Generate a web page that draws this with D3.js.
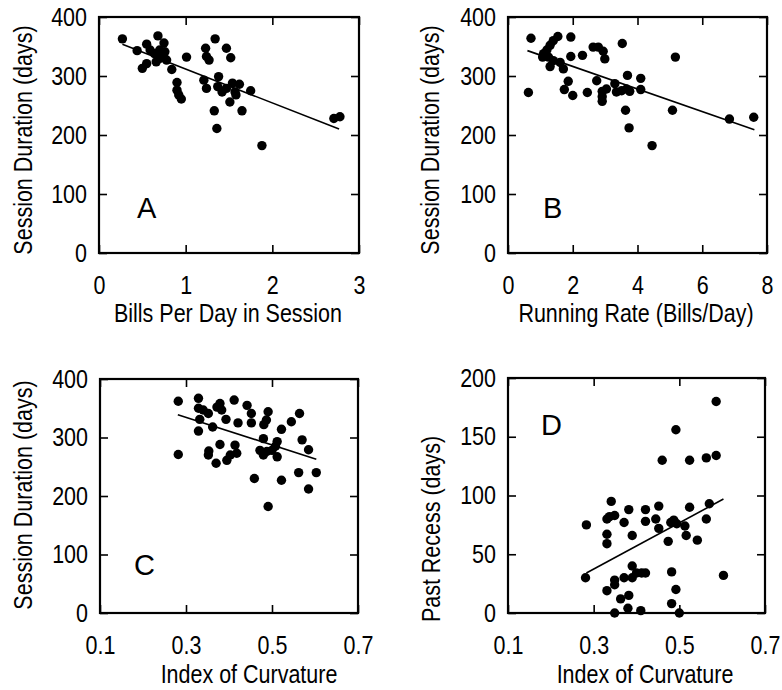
<!DOCTYPE html>
<html>
<head>
<meta charset="utf-8">
<script src="https://cdn.jsdelivr.net/npm/d3@7"></script>
<style>
  html, body { margin: 0; padding: 0; background: #fff; }
  svg { display: block; }
</style>
</head>
<body>
<div id="chart"></div>
<script>
// Four scatter panels (A-D).

// A: bills per day in session vs session duration
const billsA = [0.27,0.44,0.50,0.55,0.55,0.68,0.75,0.59,0.64,0.70,0.76,0.66,0.78,0.71,0.84,0.90,0.90,0.92,0.95,1.01,1.23,1.24,1.27,1.34,1.47,1.52,1.21,1.24,1.38,1.37,1.42,1.47,1.54,1.62,1.57,1.51,1.58,1.75,1.33,1.65,1.36,1.88,2.71,2.78]
const durA  = [363,343,313,321,354,368,356,344,338,344,341,324,327,330,311,289,276,268,261,332,347,333,327,363,347,331,293,279,299,282,273,279,288,286,273,256,268,275,241,241,211,182,228,231]

// B: running rate vs session duration
const rateB = [0.71,0.63,1.54,1.40,1.30,1.20,1.10,1.07,1.25,1.30,1.40,1.61,1.71,1.94,1.94,2.30,1.86,1.74,2.00,2.45,2.63,2.79,2.94,2.99,2.74,2.91,2.91,2.91,3.04,3.30,3.35,3.51,3.66,3.76,3.53,3.69,3.63,3.74,4.10,4.10,4.45,5.08,5.17,6.84,7.59]
const durB  = [364,272,367,360,352,344,338,332,332,316,326,323,312,366,333,335,291,277,267,272,349,349,342,329,292,274,257,265,278,287,273,275,278,274,355,301,242,212,296,277,182,242,332,227,230]

// C: index of curvature vs session duration
const curvC = [0.282,0.282,0.329,0.329,0.340,0.352,0.332,0.329,0.362,0.379,0.372,0.383,0.393,0.412,0.421,0.442,0.452,0.452,0.491,0.487,0.481,0.379,0.353,0.352,0.370,0.395,0.403,0.414,0.418,0.480,0.472,0.480,0.488,0.508,0.512,0.512,0.500,0.522,0.545,0.564,0.570,0.585,0.459,0.522,0.562,0.603,0.585,0.491]
const durC  = [362,271,367,350,347,341,331,311,318,358,352,347,331,364,325,355,341,325,344,330,322,288,277,270,256,261,270,287,273,298,278,270,276,285,293,267,278,314,327,341,296,279,230,227,240,240,212,182]

// D: index of curvature vs past recess
const curvD   = [0.283,0.281,0.331,0.337,0.349,0.341,0.331,0.331,0.371,0.382,0.390,0.421,0.421,0.445,0.452,0.452,0.474,0.480,0.487,0.494,0.513,0.516,0.524,0.542,0.563,0.570,0.460,0.492,0.524,0.563,0.586,0.586,0.603,0.390,0.371,0.390,0.400,0.412,0.421,0.349,0.349,0.331,0.363,0.382,0.380,0.349,0.410,0.482,0.492,0.482,0.500]
const recessD = [75,30,80,82,83,95,67,59,77,88,66,88,78,80,91,72,61,77,79,76,74,66,90,62,80,93,130,156,130,132,134,180,32,40,30,30,34,34,34,28,24,19,12,15,4,0,2,35,20,8,0]

// regression line end points
const fitAx = [0.27, 2.77], fitAy = [354, 210]
const fitBx = [0.60, 7.61], fitBy = [343, 209]
const fitCx = [0.281, 0.603], fitCy = [339, 263]
const fitDx = [0.283, 0.603], fitDy = [34, 97]

// tick values
const ticksA = [0, 1, 2, 3]
const ticksB = [0, 2, 4, 6, 8]
const ticksCurv = [0.1, 0.3, 0.5, 0.7]
const ticksDur = [0, 100, 200, 300, 400]
const ticksRecess = [0, 50, 100, 150, 200]

const W = 782, H = 690
const FONT = "'Liberation Sans', Arial, sans-serif"
const SX = 0.86   // the original type is a narrow grotesque: squeeze horizontally

const svg = d3.select("#chart").append("svg")
  .attr("width", W).attr("height", H)
  .attr("viewBox", `0 0 ${W} ${H}`)

const panels = [
  { letter: "A", xs: billsA, ys: durA, fx: fitAx, fy: fitAy,
    xDom: [0, 3], yDom: [0, 400], xTicks: ticksA, yTicks: ticksDur,
    box: { x0: 99, x1: 359, y0: 17, y1: 253 },
    xTitle: "Bills Per Day in Session", xTitleX: 228, xTitleY: 322,
    yTitle: "Session Duration (days)", yTitleX: 32, yTitleY: 140,
    lx: 137, ly: 218, fmt: d3.format("d") },
  { letter: "B", xs: rateB, ys: durB, fx: fitBx, fy: fitBy,
    xDom: [0, 8], yDom: [0, 400], xTicks: ticksB, yTicks: ticksDur,
    box: { x0: 508, x1: 767, y0: 17, y1: 253 },
    xTitle: "Running Rate (Bills/Day)", xTitleX: 636, xTitleY: 322,
    yTitle: "Session Duration (days)", yTitleX: 439, yTitleY: 140,
    lx: 543, ly: 218, fmt: d3.format("d") },
  { letter: "C", xs: curvC, ys: durC, fx: fitCx, fy: fitCy,
    xDom: [0.1, 0.7], yDom: [0, 400], xTicks: ticksCurv, yTicks: ticksDur,
    box: { x0: 100, x1: 358, y0: 379, y1: 613 },
    xTitle: "Index of Curvature", xTitleX: 249, xTitleY: 683,
    yTitle: "Session Duration (days)", yTitleX: 32, yTitleY: 495,
    lx: 134, ly: 575, fmt: d3.format(".1f") },
  { letter: "D", xs: curvD, ys: recessD, fx: fitDx, fy: fitDy,
    xDom: [0.1, 0.7], yDom: [0, 200], xTicks: ticksCurv, yTicks: ticksRecess,
    box: { x0: 508, x1: 765, y0: 378, y1: 613 },
    xTitle: "Index of Curvature", xTitleX: 645, xTitleY: 683,
    yTitle: "Past Recess (days)", yTitleX: 440, yTitleY: 529,
    lx: 541, ly: 435, fmt: d3.format(".1f") },
]

panels.forEach(p => {
  const b = p.box
  const x = d3.scaleLinear().domain(p.xDom).range([b.x0, b.x1])
  const y = d3.scaleLinear().domain(p.yDom).range([b.y1, b.y0])
  const g = svg.append("g")

  // inward ticks on all four sides, labels only bottom + left
  const styleAxis = s => {
    s.select(".domain").remove()
    s.selectAll(".tick line").attr("stroke", "#000").attr("stroke-width", 1.6)
    s.selectAll(".tick text").attr("fill", "#000")
      .attr("font-family", FONT).attr("font-size", 25)
      .each(function () {
        // squeeze around the anchor point
        const t = d3.select(this)
        const tx = +t.attr("x") || 0
        t.attr("x", tx / SX).attr("transform", `scale(${SX},1)`)
      })
  }
  g.append("g").attr("transform", `translate(0,${b.y1})`)
    .call(d3.axisBottom(x).tickValues(p.xTicks).tickSize(-8).tickPadding(23).tickFormat(p.fmt))
    .call(styleAxis)
  g.append("g").attr("transform", `translate(0,${b.y0})`)
    .call(d3.axisTop(x).tickValues(p.xTicks).tickSize(-8).tickFormat(""))
    .call(styleAxis)
  g.append("g").attr("transform", `translate(${b.x0},0)`)
    .call(d3.axisLeft(y).tickValues(p.yTicks).tickSize(-8).tickPadding(12).tickFormat(d3.format("d")))
    .call(styleAxis)
  g.append("g").attr("transform", `translate(${b.x1},0)`)
    .call(d3.axisRight(y).tickValues(p.yTicks).tickSize(-8).tickFormat(""))
    .call(styleAxis)

  g.append("rect")
    .attr("x", b.x0).attr("y", b.y0)
    .attr("width", b.x1 - b.x0).attr("height", b.y1 - b.y0)
    .attr("fill", "none").attr("stroke", "#000").attr("stroke-width", 2.2)

  // fit line
  g.append("line")
    .attr("x1", x(p.fx[0])).attr("y1", y(p.fy[0]))
    .attr("x2", x(p.fx[1])).attr("y2", y(p.fy[1]))
    .attr("stroke", "#000").attr("stroke-width", 1.6)

  // points
  g.selectAll("circle.pt")
    .data(p.xs.map((v, i) => [v, p.ys[i]]))
    .join("circle")
    .attr("class", "pt")
    .attr("cx", d => x(d[0]))
    .attr("cy", d => y(d[1]))
    .attr("r", 4.7)
    .attr("fill", "#000")

  // panel letter
  g.append("text")
    .attr("x", p.lx).attr("y", p.ly)
    .attr("font-family", FONT).attr("font-size", 29)
    .attr("fill", "#000")
    .text(p.letter)

  // axis titles
  g.append("text")
    .attr("transform", `translate(${p.xTitleX},${p.xTitleY}) scale(${SX},1)`)
    .attr("text-anchor", "middle")
    .attr("font-family", FONT).attr("font-size", 25)
    .attr("fill", "#000")
    .text(p.xTitle)

  g.append("text")
    .attr("transform", `translate(${p.yTitleX},${p.yTitleY}) rotate(-90) scale(${SX},1)`)
    .attr("text-anchor", "middle")
    .attr("font-family", FONT).attr("font-size", 25)
    .attr("fill", "#000")
    .text(p.yTitle)
})
</script>
</body>
</html>
